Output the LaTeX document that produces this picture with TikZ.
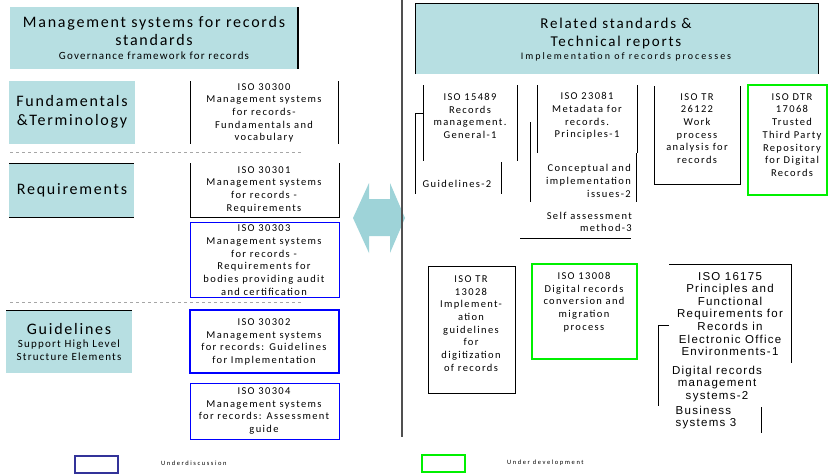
\documentclass[tikz,border=0pt]{standalone}
\usepackage{fontspec}
\setmainfont{Carlito}[LetterSpace=11]
\newfontfamily\arialf{Liberation Sans}[LetterSpace=11]
\definecolor{teal1}{RGB}{183,223,226}
\definecolor{teal2}{RGB}{158,211,216}
\definecolor{midgray}{RGB}{80,80,80}
\definecolor{navy}{RGB}{51,51,153}
\definecolor{brightgreen}{RGB}{0,240,0}
\begin{document}
\begin{tikzpicture}[x=1pt,y=-1pt,
  txt/.style={align=center,inner sep=0pt,font=\fontsize{10.5}{12.7}\selectfont\addfontfeature{LetterSpace=13}},
  big/.style={align=center,inner sep=0pt,font=\fontsize{16}{18.5}\selectfont},
  small/.style={align=center,inner sep=0pt,font=\fontsize{11}{12.5}\selectfont},
  tiny/.style={inner sep=0pt,font=\fontsize{6.5}{7}\selectfont\addfontfeature{LetterSpace=24}},
  arl/.style={align=center,inner sep=0pt,font=\arialf\fontsize{11.5}{12.6}\selectfont},
  edge/.style={draw=black,line width=0.9pt},
  blueb/.style={draw=blue,line width=1pt},
  bluebb/.style={draw=blue,line width=1.8pt},
  greenb/.style={draw=brightgreen,line width=2.2pt},
  sep/.style={draw=gray!70,dashed,line width=0.5pt}]
\useasboundingbox (0,0) rectangle (828,475);

% ---------------- left column ----------------
\fill[teal1] (10,7) rectangle (298,69);
\draw[edge,line width=1.3pt] (298,7) -- (298,69);
\node[big] (ltitle) at (154,31) {Management systems for records\\standards};
\node[small] (lsub) at (154,56) {Governance framework for records};

\fill[teal1] (9,81) rectangle (135,144);
\node[big] (fund) at (72,112) {Fundamentals\\\&Terminology};

\draw[sep] (10,152) -- (302,152);

\fill[teal1] (9,163) rectangle (134,217);
\draw[edge] (9,163) -- (134,163);
\draw[edge] (9,217) -- (134,217);
\node[big] (req) at (72,190) {Requirements};

\draw[sep] (10,302) -- (302,302);

\fill[teal1] (6,310) rectangle (132,373);
\draw[edge] (6,310) -- (132,310);
\node[big] (guid) at (69,329) {Guidelines};
\node[small] (guidsub) at (69,350) {Support High Level\\Structure Elements};

% ISO 30300
\draw[edge] (190,81) -- (190,144);
\draw[edge] (338,81) -- (338,144);
\node[txt] (i30300) at (264,113) {ISO 30300\\Management systems\\for records-\\Fundamentals and\\vocabulary};

% ISO 30301
\draw[edge] (190,163) -- (190,217) -- (339,217) -- (339,163);
\node[txt] (i30301) at (264,189.5) {ISO 30301\\Management systems\\for records -\\Requirements};

% ISO 30303
\draw[blueb] (190,222) rectangle (339,297);
\node[txt] (i30303) at (264,260) {ISO 30303\\Management systems\\for records -\\Requirements for\\bodies providing audit\\and certification};

% ISO 30302
\draw[bluebb] (190,310) rectangle (339,373);
\node[txt] (i30302) at (264,342) {ISO 30302\\Management systems\\for records: Guidelines\\for Implementation};

% ISO 30304
\draw[blueb] (190,383) rectangle (339,439);
\node[txt] (i30304) at (264,411) {ISO 30304\\Management systems\\for records: Assessment\\guide};

% legend
\draw[draw=navy,line width=2pt] (75,456) rectangle (118,473);
\node[tiny,anchor=west] (l1) at (161,463) {Underdiscussion};
\draw[greenb] (422,455) rectangle (465,472);
\node[tiny,anchor=west] (l2) at (507,463) {Under development};

% double arrow
\fill[teal2] (353,218) -- (369,183) -- (369,199) -- (390,199) -- (390,183) -- (405,218)
  -- (390,253) -- (390,236) -- (369,236) -- (369,253) -- cycle;
\draw[draw=midgray,line width=1.6pt] (402,0) -- (402,437);

% ---------------- right column ----------------
\fill[teal1] (415,3) rectangle (818,74);
\draw[edge] (415,74) -- (415,3) -- (818,3) -- (818,74);
\node[big,font=\fontsize{15}{18}\selectfont\addfontfeature{LetterSpace=12}] (rtitle) at (616,33) {Related standards \&\\Technical reports};
\node[small,font=\fontsize{10}{11}\selectfont\addfontfeature{LetterSpace=20}] (rsub) at (626,57) {Implementation of records processes};

% ISO 15489
\draw[edge] (423,85) -- (423,161);
\draw[edge] (517,85) -- (517,161);
\node[txt] (i15489) at (470,116) {ISO 15489\\Records\\management.\\General-1};
\draw[edge] (423,113) -- (415,113) -- (415,194);
\node[txt] (g2) at (457,184) {Guidelines-2};
\draw[edge] (501,162) -- (501,194);

% ISO 23081
\draw[edge] (537,85) -- (537,153);
\draw[edge] (637,85) -- (637,153);
\node[txt] (i23081) at (587,116) {ISO 23081\\Metadata for\\records.\\Principles-1};
\draw[edge] (530,122) -- (530,202);
\draw[edge] (636,153) -- (636,202);
\node[txt,align=right,anchor=east] (c2) at (631,181) {Conceptual and\\implementation\\issues-2};
\node[txt,align=right,anchor=east] (s3) at (632,222) {Self assessment\\method-3};
\draw[edge] (520,238) -- (631,238);

% ISO TR 26122
\draw[edge] (654,86) -- (654,184) -- (740,184) -- (740,86);
\node[txt] (i26122) at (697,128.5) {ISO TR\\26122\\Work\\process\\analysis for\\records};

% ISO DTR 17068
\draw[greenb] (748,85) rectangle (827,195);
\node[txt] (i17068) at (792,135) {ISO DTR\\17068\\Trusted\\Third Party\\Repository\\for Digital\\Records};

% ISO TR 13028
\draw[edge] (428,266) rectangle (515,393);
\node[txt] (i13028) at (471,323.5) {ISO TR\\13028\\Implement-\\ation\\guidelines\\for\\digitization\\of records};

% ISO 13008
\draw[greenb] (532,264) rectangle (637,359);
\node[txt] (i13008) at (584,302) {ISO 13008\\Digital records\\conversion and\\migration\\process};

% ISO 16175
\draw[edge] (669,264) -- (791,264) -- (791,363);
\node[arl] (i16175) at (730,314) {ISO 16175\\Principles and\\Functional\\Requirements for\\Records in\\Electronic Office\\Environments-1};
\draw[edge] (669,325) -- (658,325) -- (658,406);
\node[arl] (d2) at (717,384) {Digital records\\management\\systems-2};
\draw[edge] (761,407) -- (761,433);
\node[arl,align=left] (b3) at (706,417.5) {Business\\systems 3};
\end{tikzpicture}
\end{document}
